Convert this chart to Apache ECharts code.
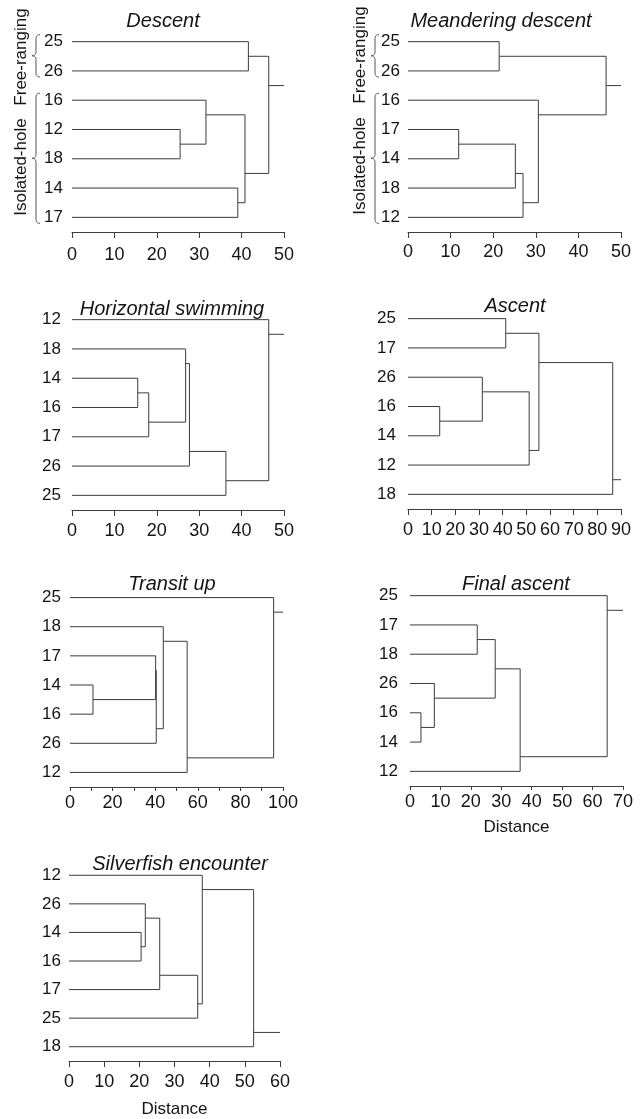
<!DOCTYPE html>
<html>
<head>
<meta charset="utf-8">
<title>Dendrograms</title>
<script src="https://cdn.jsdelivr.net/npm/echarts@6/dist/echarts.min.js"></script>
<style>
  html, body { margin: 0; padding: 0; background: #fff; }
  #chart { width: 643px; height: 1119px; }
</style>
</head>
<body>
<div id="chart"></div>
<script>
// each panel: leaf order (top to bottom) + merges [upper child, lower child, height]
// strings are leaves, numbers point at an earlier merge of the same panel
const titles = ['Descent', 'Meandering descent', 'Horizontal swimming', 'Ascent', 'Transit up', 'Final ascent', 'Silverfish encounter']
const axisMax = [50, 50, 50, 90, 100, 70, 60]
const labelStep = [10, 10, 10, 10, 20, 10, 10]

const descentLeaves = ['25', '26', '16', '12', '18', '14', '17']
const descentMerges = [['25', '26', 41.6], ['12', '18', 25.5], ['16', 1, 31.6], ['14', '17', 39.1], [2, 3, 40.8], [0, 4, 46.4]]

const meanderLeaves = ['25', '26', '16', '17', '14', '18', '12']
const meanderMerges = [['25', '26', 21.4], ['17', '14', 11.9], [1, '18', 25.2], [2, '12', 27.0], ['16', 3, 30.6], [0, 4, 46.5]]

const horizLeaves = ['12', '18', '14', '16', '17', '26', '25']
const horizMerges = [['14', '16', 15.5], [0, '17', 18.1], ['18', 1, 26.8], [2, '26', 27.7], [3, '25', 36.3], ['12', 4, 46.4]]

const ascentLeaves = ['25', '17', '26', '16', '14', '12', '18']
const ascentMerges = [['25', '17', 41.3], ['16', '14', 13.4], ['26', 1, 31.4], [2, '12', 51.2], [0, 3, 55.3], [4, '18', 86.5]]

const transitLeaves = ['25', '18', '17', '14', '16', '26', '12']
const transitMerges = [['14', '16', 10.8], ['17', 0, 40.2], [1, '26', 40.5], ['18', 2, 43.8], [3, '12', 55.0], ['25', 4, 95.6]]

const finalLeaves = ['25', '17', '18', '26', '16', '14', '12']
const finalMerges = [['17', '18', 22.1], ['16', '14', 3.6], ['26', 1, 8.0], [0, 2, 28.0], [3, '12', 36.2], ['25', 4, 64.8]]

const silverLeaves = ['12', '26', '14', '16', '17', '25', '18']
const silverMerges = [['14', '16', 20.5], ['26', 0, 21.7], [1, '17', 25.8], [2, '25', 36.6], ['12', 3, 37.9], [4, '18', 52.5]]

const groupNames = ['Free-ranging', 'Isolated-hole']
const groupRows = [[0, 1], [2, 6]]

const panels = [
  [descentLeaves, descentMerges], [meanderLeaves, meanderMerges], [horizLeaves, horizMerges],
  [ascentLeaves, ascentMerges], [transitLeaves, transitMerges], [finalLeaves, finalMerges],
  [silverLeaves, silverMerges]
]

// layout (pixels)
const grids = [
  { left: 72, top: 27, width: 212, height: 205 },
  { left: 408, top: 27, width: 213, height: 205 },
  { left: 72, top: 305, width: 212, height: 205 },
  { left: 408, top: 304, width: 213, height: 205 },
  { left: 70, top: 583, width: 213, height: 204 },
  { left: 410, top: 581, width: 213, height: 205 },
  { left: 69, top: 861, width: 211, height: 204 }
]
const titlePos = [[158, 6], [496, 6], [167, 294], [510, 291], [167, 569], [511, 569], [175, 849]]
const tickMargin = [14, 11, 12, 12, 7, 7, 12]
const tickLength = [6, 6, 6, 6, 4, 4, 6]
const rowMargin = [9, 8, 11, 12, 9, 12, 8]
const nameGap = [0, 0, 0, 0, 0, 33, 40]

const FONT = '"Liberation Sans", Arial, sans-serif'
const LINE = '#3c3c3c'
const TEXT = '#141414'

function buildPaths(leaves, merges, max) {
  const nodes = []
  const info = k => {
    if (typeof k === 'string') {
      const i = leaves.indexOf(k)
      return { h: 0, pos: i, lo: i, hi: i }
    }
    return nodes[k]
  }
  const paths = []
  merges.forEach(([a, b, h]) => {
    const A = info(a)
    const B = info(b)
    paths.push({ coords: [[A.h, A.pos], [h, A.pos], [h, B.pos], [B.h, B.pos]] })
    // the outgoing branch leaves at the border between the two child clusters
    const up = A.lo < B.lo ? A : B
    const down = up === A ? B : A
    nodes.push({ h: h, pos: (up.hi + down.lo) / 2, lo: Math.min(A.lo, B.lo), hi: Math.max(A.hi, B.hi) })
  })
  const root = nodes[nodes.length - 1]
  paths.push({ coords: [[root.h, root.pos], [max, root.pos]] })
  return paths
}

const myChart = echarts.init(document.getElementById('chart'))

const option = {
  backgroundColor: '#fff',
  animation: false,
  title: titles.map((t, i) => ({
    text: t,
    left: titlePos[i][0],
    top: titlePos[i][1],
    textAlign: 'center',
    textStyle: { fontSize: 20, fontStyle: 'italic', fontWeight: 'normal', color: TEXT, fontFamily: FONT }
  })),
  grid: grids,
  xAxis: panels.map((p, i) => ({
    type: 'value',
    gridIndex: i,
    position: 'bottom',
    min: 0,
    max: axisMax[i],
    interval: 10,
    name: i >= 5 ? 'Distance' : '',
    nameLocation: 'middle',
    nameGap: nameGap[i],
    nameTextStyle: { fontSize: 17, color: TEXT, fontFamily: FONT },
    axisLine: { onZero: false, lineStyle: { color: LINE, width: 1 } },
    axisTick: { length: tickLength[i], lineStyle: { color: LINE } },
    splitLine: { show: false },
    axisLabel: {
      fontSize: 18,
      color: TEXT,
      fontFamily: FONT,
      margin: tickMargin[i],
      hideOverlap: false,
      showMinLabel: true,
      showMaxLabel: true,
      formatter: v => (v % labelStep[i] === 0 ? String(v) : '')
    }
  })),
  yAxis: panels.map((p, i) => ({
    type: 'value',
    gridIndex: i,
    inverse: true,
    min: -0.5,
    max: p[0].length - 0.5,
    axisLine: { show: false },
    axisTick: { show: false },
    splitLine: { show: false },
    axisLabel: {
      customValues: p[0].map((_, k) => k),
      formatter: v => p[0][Math.round(v)],
      fontSize: 17,
      color: TEXT,
      fontFamily: FONT,
      margin: rowMargin[i]
    }
  })),
  series: panels.map((p, i) => ({
    type: 'lines',
    coordinateSystem: 'cartesian2d',
    xAxisIndex: i,
    yAxisIndex: i,
    polyline: true,
    silent: true,
    lineStyle: { color: LINE, width: 1, opacity: 1 },
    data: buildPaths(p[0], p[1], axisMax[i])
  }))
}

myChart.setOption(option)

// braces and group names on the two top panels
const braceTip = [32, 371]
const braceWidth = [8, 8]
const groupTextX = [21, 360]
const groupTextY = [[57, 167], [55, 166]]

function quad(p0, p1, p2, out) {
  for (let t = 0.2; t <= 1.001; t += 0.2) {
    const u = 1 - t
    out.push([u * u * p0[0] + 2 * u * t * p1[0] + t * t * p2[0], u * u * p0[1] + 2 * u * t * p1[1] + t * t * p2[1]])
  }
}

function bracePoints(x, y1, y2, w) {
  const ym = (y1 + y2) / 2
  const xv = x + w / 2
  const pts = [[x + w, y1]]
  quad([x + w, y1], [xv, y1], [xv, y1 + 4], pts)
  pts.push([xv, ym - 4])
  quad([xv, ym - 4], [xv, ym], [x, ym], pts)
  quad([x, ym], [xv, ym], [xv, ym + 4], pts)
  pts.push([xv, y2 - 4])
  quad([xv, y2 - 4], [xv, y2], [x + w, y2], pts)
  return pts
}

const graphic = []
;[0, 1].forEach(g => {
  groupRows.forEach((rows, k) => {
    const y1 = myChart.convertToPixel({ gridIndex: g }, [0, rows[0]])[1] - 7
    const y2 = myChart.convertToPixel({ gridIndex: g }, [0, rows[1]])[1] + 6
    graphic.push({
      type: 'polyline',
      shape: { points: bracePoints(braceTip[g], y1, y2, braceWidth[g]) },
      style: { fill: null, stroke: '#555', lineWidth: 1 },
      silent: true
    })
    graphic.push({
      type: 'text',
      x: groupTextX[g],
      y: groupTextY[g][k],
      rotation: Math.PI / 2,
      style: {
        text: groupNames[k],
        fontSize: 17,
        fontFamily: FONT,
        fill: TEXT,
        align: 'center',
        verticalAlign: 'middle'
      },
      silent: true
    })
  })
})
myChart.setOption({ graphic: graphic })
</script>
</body>
</html>
